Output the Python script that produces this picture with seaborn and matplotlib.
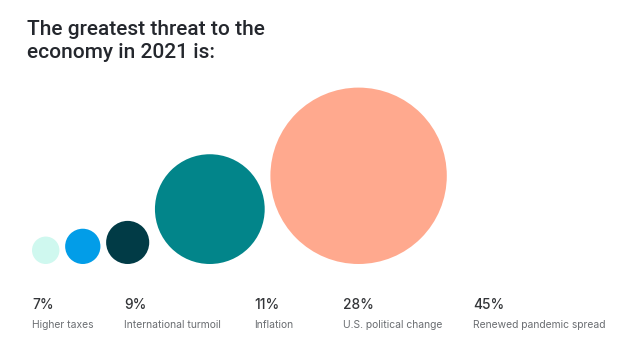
import matplotlib
matplotlib.use("Agg")
import matplotlib.pyplot as plt
import seaborn as sns
import pandas as pd
import numpy as np

categories = ["Higher taxes", "International turmoil", "Inflation",
              "U.S. political change", "Renewed pandemic spread"]
values = [7, 9, 11, 28, 45]
pct_labels = ["7%", "9%", "11%", "28%", "45%"]
circle_colors = ["#cff8ef", "#029de8", "#013b46", "#02858a", "#ffa98e"]

W, H, DPI = 620, 363, 100
PPU = 3.92          # pixels per data unit (1 unit = 1 percentage point of diameter)
GAP = 5.7 / PPU     # gap between circles, data units
LEFT = 32 / PPU     # left edge of first circle
BOTTOM = (H - 264) / PPU  # baseline of circles

sns.set_theme(style="white")
plt.rcParams["font.family"] = ["Inter", "DejaVu Sans"]

# circle layout derived from values (diameter proportional to value)
vals = np.array(values, dtype=float)
lefts = LEFT + np.concatenate([[0], np.cumsum(vals[:-1])]) + GAP * np.arange(len(vals))
df = pd.DataFrame({
    "category": categories,
    "value": vals,
    "x": lefts + vals / 2,
    "y": BOTTOM + vals / 2,
})

fig = plt.figure(figsize=(W / DPI, H / DPI), dpi=DPI)
ax = fig.add_axes([0, 0, 1, 1])
pt_per_unit = PPU * 72 / DPI
sizes = {c: (v * pt_per_unit) ** 2 for c, v in zip(categories, values)}
sns.scatterplot(data=df, x="x", y="y", hue="category", size="category",
                palette=dict(zip(categories, circle_colors)), sizes=sizes,
                linewidth=0, legend=False, ax=ax)
ax.set_xlim(0, W / PPU)
ax.set_ylim(0, H / PPU)
ax.set_axis_off()

# title
fig.text(27 / W, 1 - 58 / H, "The greatest threat to the\neconomy in 2021 is:",
         fontsize=15.0, fontweight="medium", color="#24272d",
         family=["Roboto", "DejaVu Sans"],
         ha="left", va="baseline", linespacing=1.24)

# labels under circles
label_x = [32.5, 124, 254, 343, 473]
for lx, p, c in zip(label_x, pct_labels, categories):
    fig.text(lx / W, 1 - 309 / H, p, fontsize=9.9, fontweight="medium",
             color="#333538", ha="left", va="baseline")
    fig.text(lx / W, 1 - 328 / H, c, fontsize=7.45, color="#6b6e72",
             ha="left", va="baseline")

fig.savefig("out.png", dpi=DPI, facecolor="white")
